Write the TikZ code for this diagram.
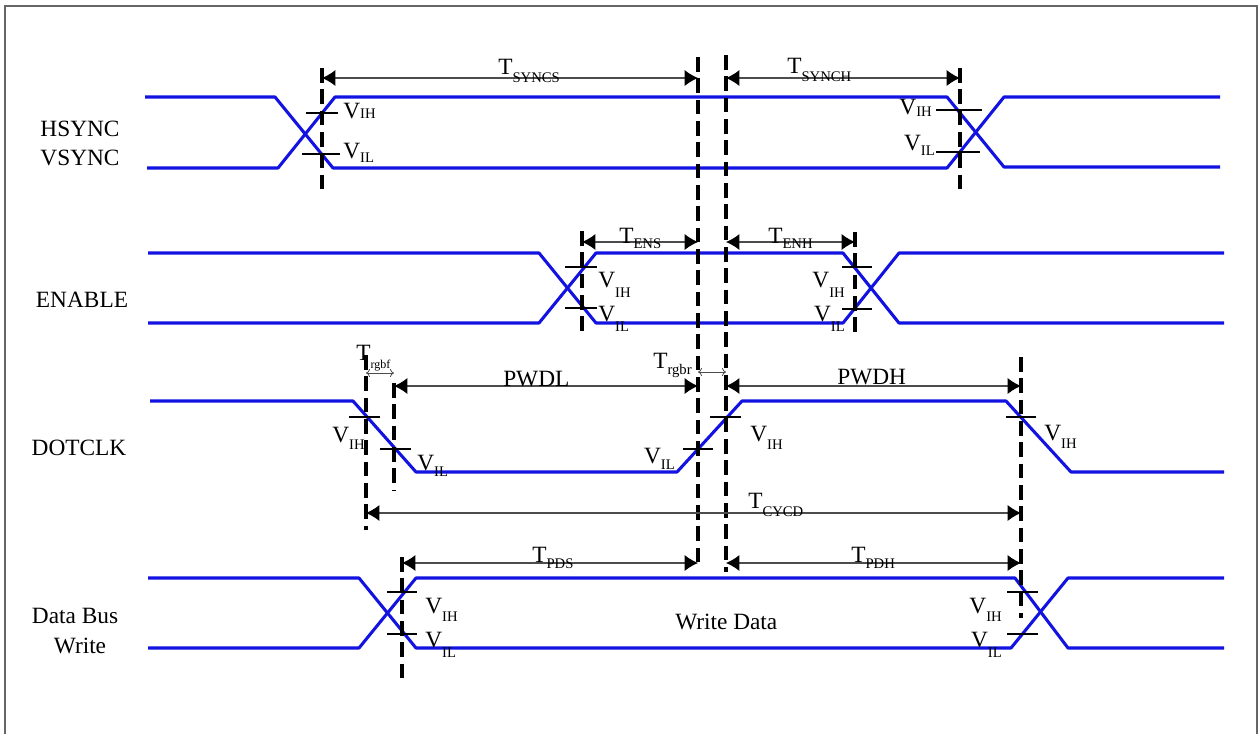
\documentclass[tikz,border=0pt]{standalone}
\usepackage{fontspec}
\setmainfont{Liberation Serif}
\usetikzlibrary{arrows.meta}
\definecolor{sigblue}{RGB}{18,18,225}
\newcommand{\fsmain}{\fontsize{17.5}{20}\selectfont}
\newcommand{\subfs}{\fontsize{11}{11}\selectfont}
\newcommand{\tlab}[3]{#1\raisebox{-#2}{\subfs #3}}
\tikzset{
  sig/.style={draw=sigblue, line width=2.3pt, line join=round},
  vdash/.style={draw=black, line width=2.3pt, dash pattern=on 11pt off 5pt},
  tickl/.style={draw=black, line width=1pt},
  dim/.style={draw=black!70, line width=0.8pt, {Latex[length=10pt,width=12pt,black]}-{Latex[length=10pt,width=12pt,black]}},
  sdim/.style={draw=black!70, line width=0.6pt, {To[length=3pt,width=6pt]}-{To[length=3pt,width=6pt]}},
  lbl/.style={inner sep=0pt, font=\fsmain},
  frame/.style={draw=black!60, line width=1.2pt}
}
\begin{document}
\begin{tikzpicture}[x=0.75pt,y=-0.75pt]
\useasboundingbox (0,0) rectangle (1259,733);
\draw[frame] (5,6) rectangle (1257,745);

% ---------- signal names
\node[lbl, anchor=base] (hs) at (80,136) {HSYNC};
\node[lbl, anchor=base] (vs) at (80,165) {VSYNC};
\node[lbl, anchor=base] (en) at (82,307) {ENABLE};
\node[lbl, anchor=base] (dc) at (79,455) {DOTCLK};
\node[lbl, anchor=base] (db) at (75,623) {Data Bus};
\node[lbl, anchor=base] (wr) at (80,653) {Write};

% ---------- waveforms
\draw[sig] (145,97) -- (275,97) -- (333,168) -- (947,168) -- (1004,97) -- (1220,97);
\draw[sig] (147,168) -- (278,168) -- (335,97) -- (947,97) -- (1004,167) -- (1220,167);
\draw[sig] (148,253) -- (539,253) -- (596,323) -- (843,323) -- (899,253) -- (1224,253);
\draw[sig] (148,323) -- (539,323) -- (596,253) -- (843,253) -- (899,323) -- (1224,323);
\draw[sig] (150,401) -- (353,401) -- (416,472) -- (677,472) -- (742,401) -- (1006,401) -- (1071,472) -- (1224,472);
\draw[sig] (148,578) -- (359,578) -- (416,648) -- (1011,648) -- (1068,578) -- (1224,578);
\draw[sig] (148,648) -- (359,648) -- (416,578) -- (1015,578) -- (1068,648) -- (1224,648);

% ---------- dashed reference lines
\coordinate (d1t) at (322,68);   \coordinate (d1b) at (322,191);
\coordinate (d2t) at (698,57);   \coordinate (d2b) at (698,567);
\coordinate (d3t) at (726,55);   \coordinate (d3b) at (726,572);
\coordinate (d4t) at (960,68);   \coordinate (d4b) at (960,191);
\coordinate (d5t) at (582,231);  \coordinate (d5b) at (582,337);
\coordinate (d6t) at (855,232);  \coordinate (d6b) at (855,335);
\coordinate (d7t) at (366,355);  \coordinate (d7b) at (366,530);
\coordinate (d8t) at (394,383);  \coordinate (d8b) at (394,490);
\coordinate (d9t) at (1021,357); \coordinate (d9b) at (1021,618);
\coordinate (d10t) at (402,557); \coordinate (d10b) at (402,683);
\foreach \d in {d1,d2,d3,d4,d5,d6,d7,d8,d9,d10}
  \draw[vdash] (\d t) -- (\d b);

% ---------- threshold ticks
\draw[tickl] (306,113) -- (338,113);
\draw[tickl] (302,154) -- (340,154);
\draw[tickl] (936,110) -- (982,110);
\draw[tickl] (936,152) -- (980,152);
\draw[tickl] (565,267) -- (597,267);
\draw[tickl] (565,308) -- (597,308);
\draw[tickl] (842,267) -- (872,267);
\draw[tickl] (842,309) -- (872,309);
\draw[tickl] (349,417) -- (380,417);
\draw[tickl] (380,449) -- (411,449);
\draw[tickl] (683,449) -- (713,449);
\draw[tickl] (710,417) -- (741,417);
\draw[tickl] (1006,417) -- (1036,417);
\draw[tickl] (387,592) -- (417,592);
\draw[tickl] (387,634) -- (417,634);
\draw[tickl] (1007,592) -- (1038,592);
\draw[tickl] (1007,634) -- (1038,634);

% ---------- timing arrows
\coordinate (a1) at (322,78);  \coordinate (a2) at (698,78);
\coordinate (a3) at (726,78);  \coordinate (a4) at (960,78);
\draw[dim] (a1) -- (a2);
\draw[dim] (a3) -- (a4);
\coordinate (b1) at (582,242); \coordinate (b2) at (698,242);
\coordinate (b3) at (726,242); \coordinate (b4) at (855,242);
\draw[dim] (b1) -- (b2);
\draw[dim] (b3) -- (b4);
\coordinate (c1) at (394,386); \coordinate (c2) at (698,386);
\coordinate (c3) at (726,386); \coordinate (c4) at (1021,386);
\draw[dim] (c1) -- (c2);
\draw[dim] (c3) -- (c4);
\coordinate (s1) at (366,373); \coordinate (s2) at (394,373);
\coordinate (s3) at (698,372); \coordinate (s4) at (726,372);
\draw[sdim] (s1) -- (s2);
\draw[sdim] (s3) -- (s4);
\coordinate (e1) at (366,513); \coordinate (e2) at (1021,513);
\draw[dim] (e1) -- (e2);
\coordinate (f1) at (402,563); \coordinate (f2) at (698,563);
\coordinate (f3) at (726,563); \coordinate (f4) at (1021,563);
\draw[dim] (f1) -- (f2);
\draw[dim] (f3) -- (f4);

% ---------- timing labels
\node[lbl, anchor=base west] (tsyncs) at (498,74) {\tlab{T}{6.5pt}{SYNCS}};
\node[lbl, anchor=base west] (tsynch) at (787,73) {\tlab{T}{6.5pt}{SYNCH}};
\node[lbl, anchor=base west] (tens) at (619,243) {\tlab{T}{4pt}{ENS}};
\node[lbl, anchor=base west] (tenh) at (768,243) {\tlab{T}{4pt}{ENH}};
\node[lbl, anchor=base west] (trgbf) at (356,360) {T\raisebox{-6pt}{\fontsize{9}{9}\selectfont rgbf}};
\node[lbl, anchor=base west] (pwdl) at (503,386) {PWDL};
\node[lbl, anchor=base west] (trgbr) at (653,368) {\tlab{T}{5pt}{rgbr}};
\node[lbl, anchor=base west] (pwdh) at (837,384) {PWDH};
\node[lbl, anchor=base west] (tcycd) at (748,508) {\tlab{T}{6pt}{CYCD}};
\node[lbl, anchor=base west] (tpds) at (532,562) {\tlab{T}{4.5pt}{PDS}};
\node[lbl, anchor=base west] (tpdh) at (851,562) {\tlab{T}{4.5pt}{PDH}};
\node[lbl, anchor=base west] (wd) at (675,629) {Write Data};

% ---------- threshold labels
\node[lbl, anchor=base west] (v1) at (343,118) {\tlab{V}{0pt}{IH}};
\node[lbl, anchor=base west] (v2) at (343,158) {\tlab{V}{3pt}{IL}};
\node[lbl, anchor=base east] (v3) at (932,114) {\tlab{V}{2pt}{IH}};
\node[lbl, anchor=base east] (v4) at (935,150) {\tlab{V}{4pt}{IL}};
\node[lbl, anchor=base west] (v5) at (598,287) {\tlab{V}{7.5pt}{IH}};
\node[lbl, anchor=base west] (v6) at (598,321) {\tlab{V}{8pt}{IL}};
\node[lbl, anchor=base east] (v7) at (845,287) {\tlab{V}{7.5pt}{IH}};
\node[lbl, anchor=base east] (v8) at (845,321) {\tlab{V}{8pt}{IL}};
\node[lbl, anchor=base west] (v9) at (332,442) {\tlab{V}{5.5pt}{IH}};
\node[lbl, anchor=base west] (v10) at (417,470) {\tlab{V}{4.5pt}{IL}};
\node[lbl, anchor=base east] (v11) at (675,463) {\tlab{V}{5pt}{IL}};
\node[lbl, anchor=base west] (v12) at (750,441) {\tlab{V}{6pt}{IH}};
\node[lbl, anchor=base west] (v13) at (1044,440) {\tlab{V}{6pt}{IH}};
\node[lbl, anchor=base west] (v14) at (425,613) {\tlab{V}{6.5pt}{IH}};
\node[lbl, anchor=base west] (v15) at (425,647) {\tlab{V}{7.5pt}{IL}};
\node[lbl, anchor=base east] (v16) at (1002,613) {\tlab{V}{6pt}{IH}};
\node[lbl, anchor=base east] (v17) at (1002,647) {\tlab{V}{7.5pt}{IL}};
\end{tikzpicture}
\end{document}
